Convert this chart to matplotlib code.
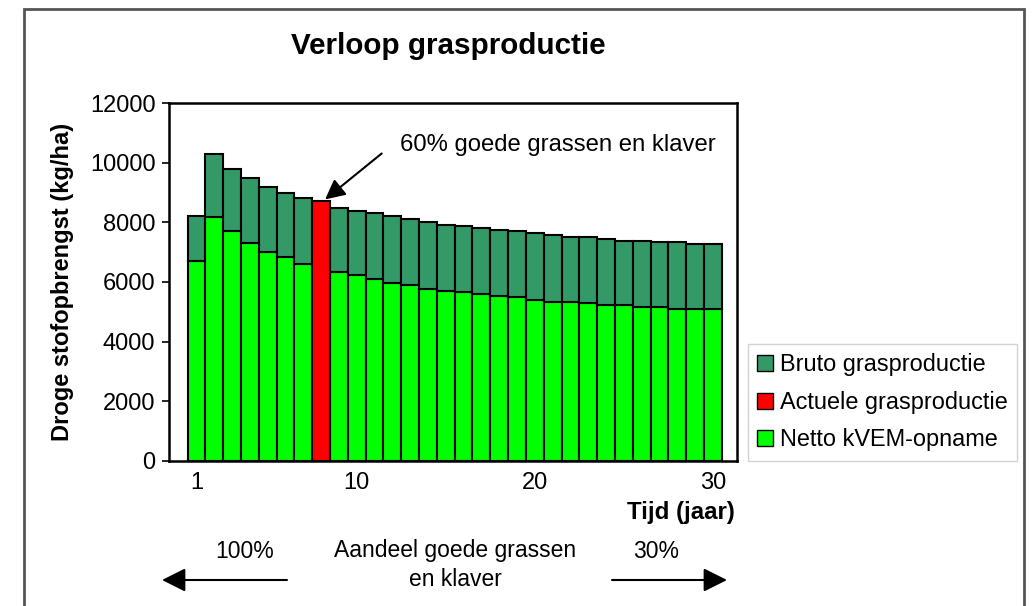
import numpy as np
import matplotlib.pyplot as plt
from matplotlib.patches import Rectangle, Patch, FancyArrowPatch

plt.rcParams['font.family'] = ['Liberation Sans', 'DejaVu Sans']

# data (kg/ha droge stof per jaar)
jaren = list(range(1, 31))
bruto = [8200, 10310, 9790, 9490, 9180, 9000, 8810, np.nan, 8500, 8400,
         8320, 8200, 8130, 8030, 7930, 7890, 7820, 7750, 7700, 7650,
         7590, 7510, 7500, 7450, 7390, 7390, 7330, 7330, 7260, 7260]
netto = [6710, 8180, 7710, 7320, 7010, 6840, 6600, np.nan, 6340, 6220,
         6090, 5980, 5900, 5780, 5710, 5660, 5590, 5530, 5490, 5400,
         5330, 5320, 5280, 5230, 5230, 5170, 5170, 5110, 5100, 5100]
actueel_jaar = 8
actueel = 8710
xticks = [1, 10, 20, 30]

donkergroen = '#339966'
lichtgroen = '#00ff00'
rood = '#ff0000'

W, H = 1033, 606
fig = plt.figure(figsize=(W / 100, H / 100), dpi=100)
ax = fig.add_axes([169.3 / W, 1 - 460.7 / H, (736.7 - 169.3) / W, (460.7 - 103.3) / H])

x = np.array(jaren)
b = np.array(bruto, dtype=float)
n = np.array(netto, dtype=float)
ok = ~np.isnan(b)
ax.bar(x[ok], n[ok], width=1.0, color=lichtgroen, edgecolor='black', linewidth=1.5)
ax.bar(x[ok], b[ok] - n[ok], bottom=n[ok], width=1.0, color=donkergroen,
       edgecolor='black', linewidth=1.5)
ax.bar([actueel_jaar], [actueel], width=1.0, color=rood, edgecolor='black', linewidth=1.5)

ax.set_xlim(-0.53, 31.34)
ax.set_ylim(0, 12000)
ax.set_yticks(range(0, 12001, 2000))
ax.set_xticks(xticks)
ax.tick_params(axis='y', labelsize=17, length=5, width=1.2, pad=5)
ax.tick_params(axis='x', labelsize=17, length=0, pad=8)
for s in ax.spines.values():
    s.set_linewidth(1.8)

# annotation
ax.text(12.43, 10594, '60% goede grassen en klaver', fontsize=17.2, va='center', ha='left')
ax.annotate('', xy=(8.22, 8772), xytext=(11.4, 10315),
            arrowprops=dict(arrowstyle='-|>', color='black', lw=1.5,
                            mutation_scale=30, shrinkA=0, shrinkB=0))

fig.text(448 / W, 1 - 46 / H, 'Verloop grasproductie', fontsize=21.3,
         fontweight='bold', ha='center', va='center')
fig.text(63 / W, 1 - 282 / H, 'Droge stofopbrengst (kg/ha)', fontsize=17,
         fontweight='bold', rotation=90, ha='center', va='center')
fig.text(735 / W, 1 - 512 / H, 'Tijd (jaar)', fontsize=17.3, fontweight='bold',
         ha='right', va='center')

handles = [Patch(facecolor=donkergroen, edgecolor='black', label='Bruto grasproductie'),
           Patch(facecolor=rood, edgecolor='black', label='Actuele grasproductie'),
           Patch(facecolor=lichtgroen, edgecolor='black', label='Netto kVEM-opname')]
leg = fig.legend(handles=handles, loc='upper left', bbox_to_anchor=(748 / W, 1 - 344 / H),
                 fontsize=16.9, frameon=True, fancybox=False, edgecolor='#c8c8c8',
                 handlelength=0.65, handleheight=0.65, handletextpad=0.3,
                 labelspacing=0.62, borderpad=0.4, borderaxespad=0)
leg.get_frame().set_linewidth(1.0)

# bottom explanation
fig.text(245 / W, 1 - 551 / H, '100%', fontsize=16.5, ha='center', va='center')
fig.text(455 / W, 1 - 565 / H, 'Aandeel goede grassen\nen klaver', fontsize=16.5,
         ha='center', va='center', linespacing=1.3)
fig.text(656 / W, 1 - 551 / H, '30%', fontsize=16.5, ha='center', va='center')
for start, end in [(287, 162), (612, 727)]:
    fig.add_artist(FancyArrowPatch(
        (start / W, 1 - 580 / H), (end / W, 1 - 580 / H), transform=fig.transFigure,
        arrowstyle='-|>', mutation_scale=36, color='black', lw=1.5,
        shrinkA=0, shrinkB=0))

# outer frame
fig.add_artist(Rectangle((24 / W, -0.02), 1000 / W, 1.02 - 9 / H, transform=fig.transFigure,
                         fill=False, edgecolor='#555555', linewidth=2))

fig.savefig('out.png', dpi=100)
